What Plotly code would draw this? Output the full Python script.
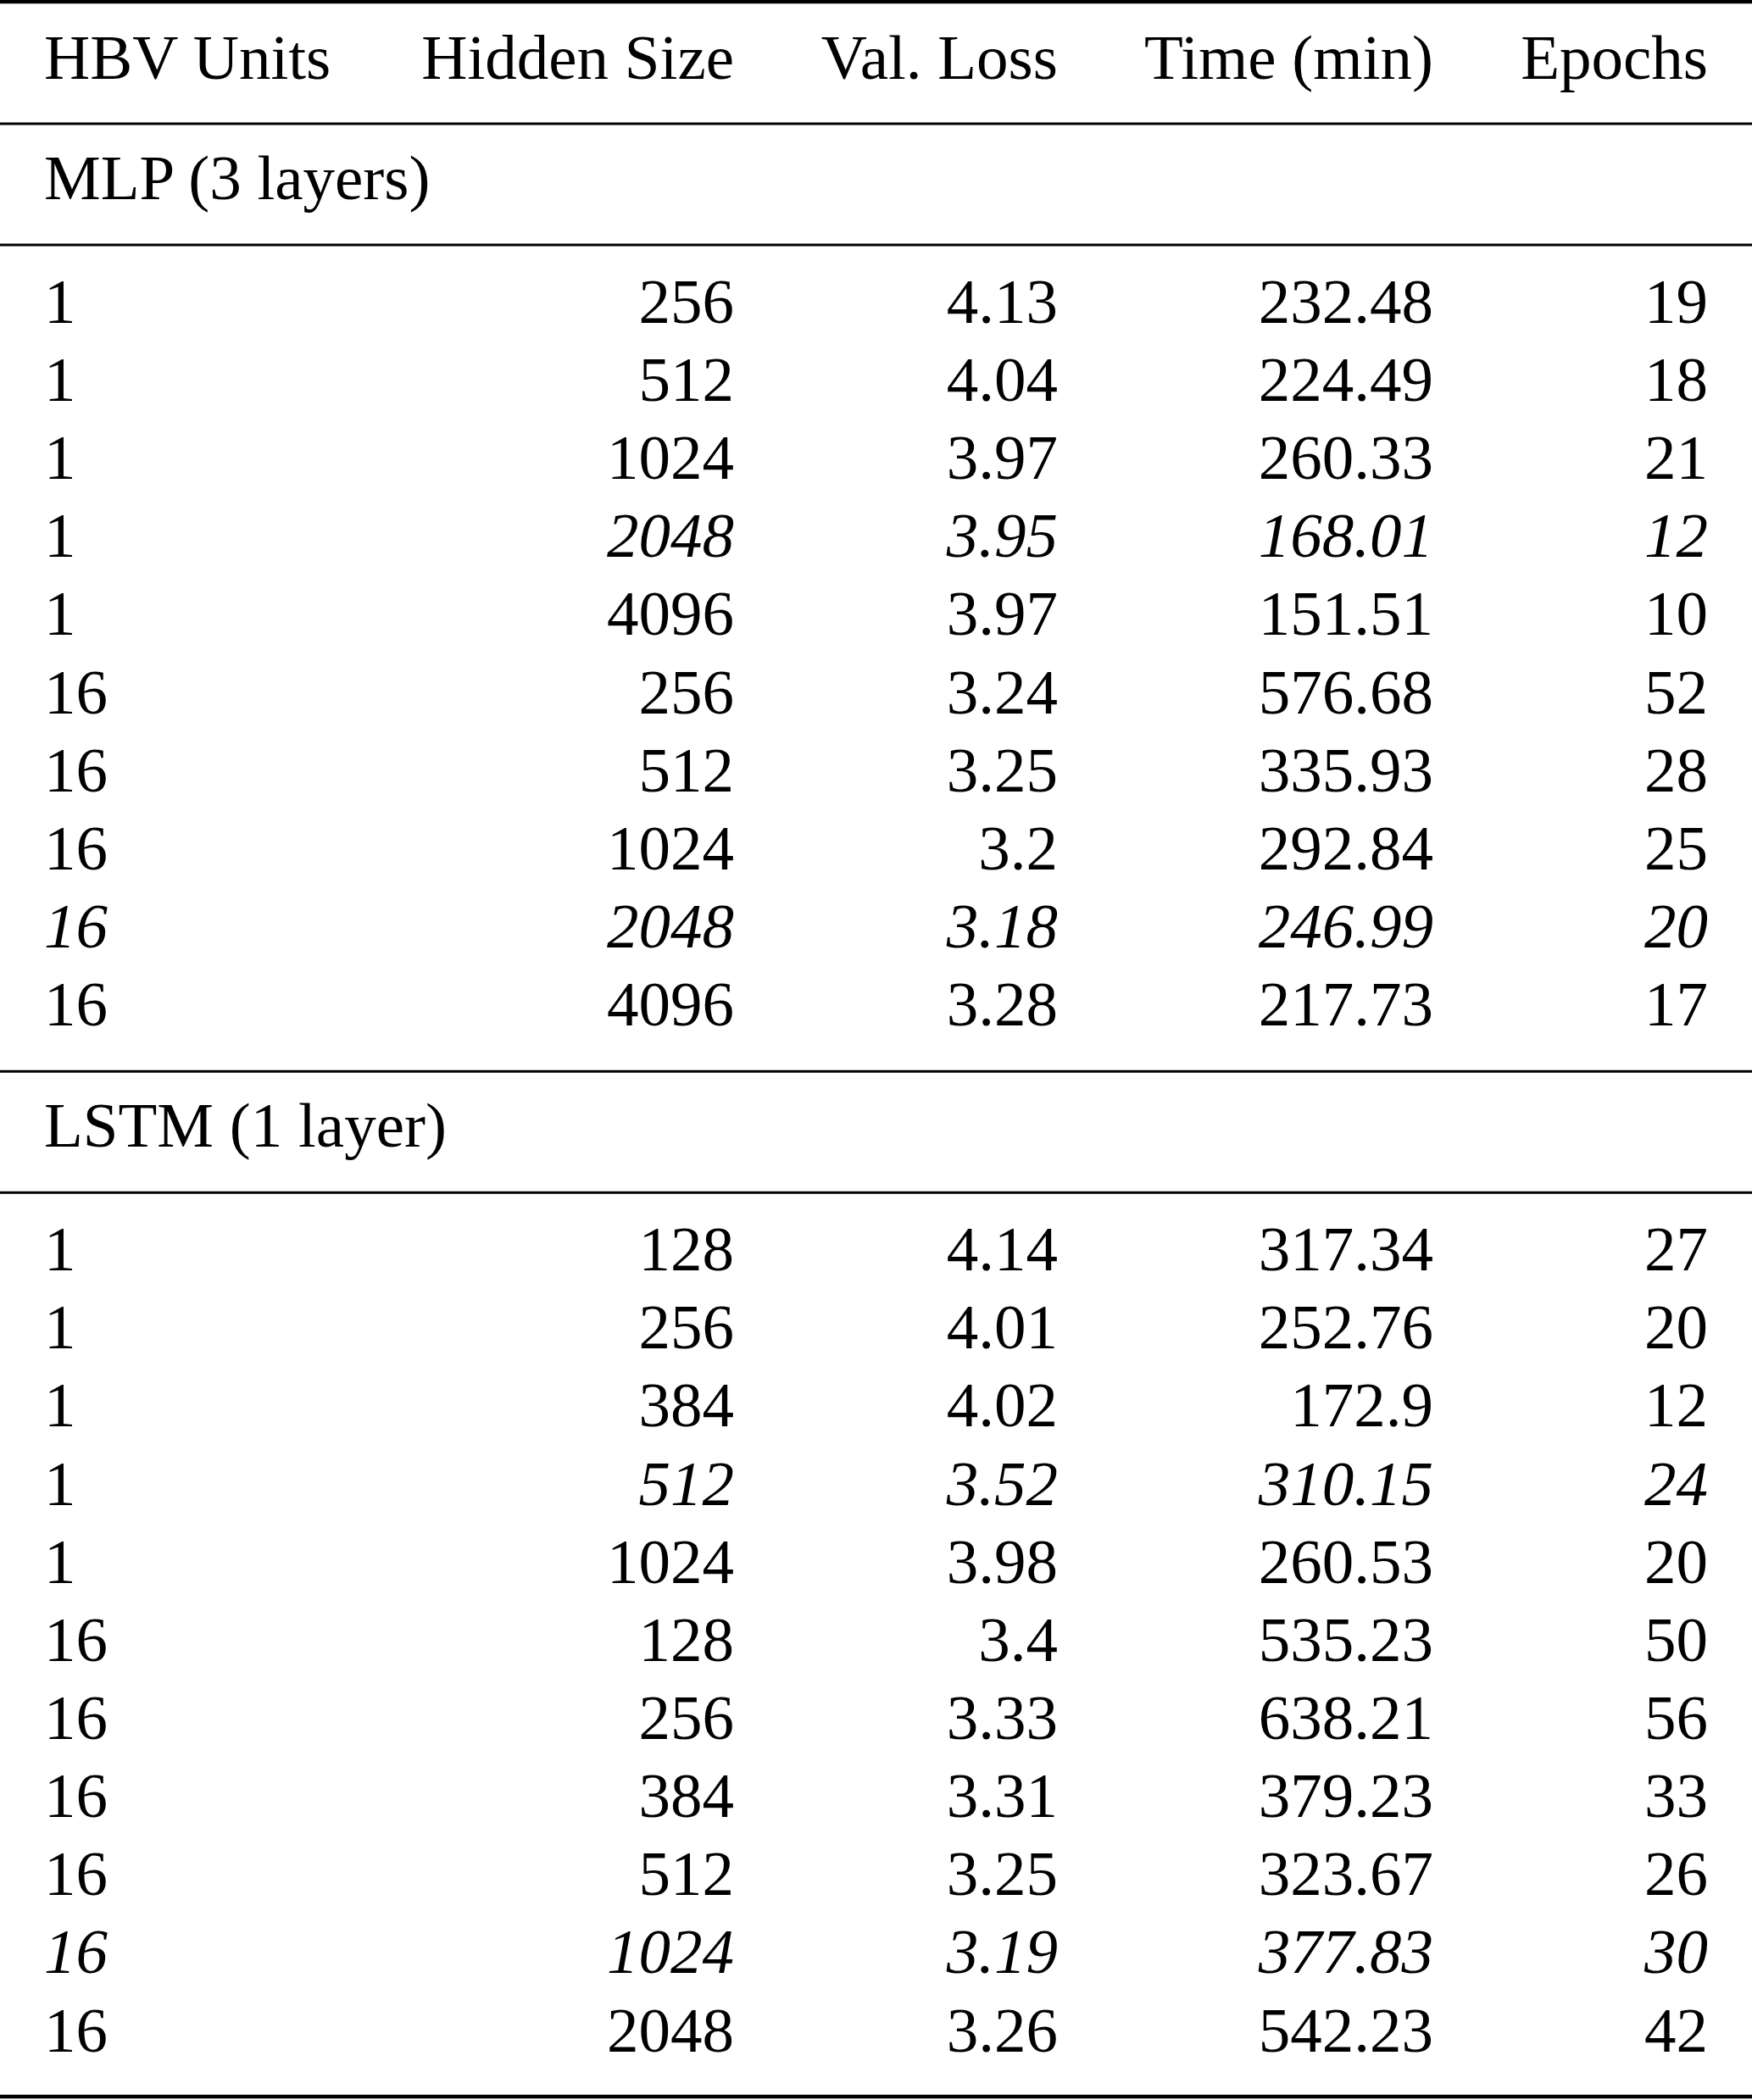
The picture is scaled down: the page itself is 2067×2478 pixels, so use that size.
import plotly.graph_objects as go

W, H = 2067, 2478
FONT = "Liberation Serif, Times New Roman, serif"
FS = 75

headers = ["HBV Units", "Hidden Size", "Val. Loss", "Time (min)", "Epochs"]

# MLP (3 layers)
mlp_hbv    = [1, 1, 1, 1, 1, 16, 16, 16, 16, 16]
mlp_hidden = [256, 512, 1024, 2048, 4096, 256, 512, 1024, 2048, 4096]
mlp_loss   = [4.13, 4.04, 3.97, 3.95, 3.97, 3.24, 3.25, 3.2, 3.18, 3.28]
mlp_time   = [232.48, 224.49, 260.33, 168.01, 151.51, 576.68, 335.93, 292.84, 246.99, 217.73]
mlp_epochs = [19, 18, 21, 12, 10, 52, 28, 25, 20, 17]
mlp_best   = [3, 8]

# LSTM (1 layer)
lstm_hbv    = [1, 1, 1, 1, 1, 16, 16, 16, 16, 16, 16]
lstm_hidden = [128, 256, 384, 512, 1024, 128, 256, 384, 512, 1024, 2048]
lstm_loss   = [4.14, 4.01, 4.02, 3.52, 3.98, 3.4, 3.33, 3.31, 3.25, 3.19, 3.26]
lstm_time   = [317.34, 252.76, 172.9, 310.15, 260.53, 535.23, 638.21, 379.23, 323.67, 377.83, 542.23]
lstm_epochs = [27, 20, 12, 24, 20, 50, 56, 33, 26, 30, 42]
lstm_best   = [3, 9]

sections = [
    ("MLP (3 layers)", [mlp_hbv, mlp_hidden, mlp_loss, mlp_time, mlp_epochs], mlp_best),
    ("LSTM (1 layer)", [lstm_hbv, lstm_hidden, lstm_loss, lstm_time, lstm_epochs], lstm_best),
]

# layout (pixel units, y grows downward)
col_x = [52, 866, 1248, 1691, 2015]      # col 0 left edge, others right edge
ROW = 92.15
TXT_DY = 5                               # nudge text down to sit like the original
header_y = 69
rules = [(2, 4.5), (146, 3)]

xs, ys, texts, pos = [], [], [], []

def put(x, y, t, left):
    xs.append(x); ys.append(y + TXT_DY); texts.append(t)
    pos.append("middle right" if left else "middle left")

for c, h in enumerate(headers):
    put(col_x[c], header_y, h, c == 0)

y = 146
for title, cols, best in sections:
    put(col_x[0], y + 65, title, True)
    rules.append((y + 143, 3))
    y0 = y + 211
    for r in range(len(cols[0])):
        ry = y0 + r * ROW
        for c, col in enumerate(cols):
            t = str(col[r])
            # best config in italics (HBV count "1" stays upright)
            if r in best and not (c == 0 and col[r] == 1):
                t = "<i>" + t + "</i>"
            put(col_x[c], ry, t, c == 0)
    y = y0 + (len(cols[0]) - 1) * ROW + 78
    rules.append((y, 3))

rules[-1] = (H - 4, 4.5)

fig = go.Figure(go.Scatter(
    x=xs, y=ys, text=texts, mode="text", textposition=pos,
    textfont=dict(family=FONT, size=FS, color="black"),
    hoverinfo="skip", showlegend=False,
))

for ry, lw in rules:
    fig.add_shape(type="line", xref="x", yref="y", x0=0, x1=W, y0=ry, y1=ry,
                  line=dict(color="black", width=lw))

fig.update_layout(
    width=W, height=H,
    margin=dict(l=0, r=0, t=0, b=0),
    paper_bgcolor="white", plot_bgcolor="white",
    xaxis=dict(range=[0, W], visible=False, fixedrange=True),
    yaxis=dict(range=[H, 0], visible=False, fixedrange=True),
)

# drop the default 8px body margin so the table fills the window exactly
fig.write_html("out.html", config={"displayModeBar": False},
               post_script="document.body.style.margin='0';")
